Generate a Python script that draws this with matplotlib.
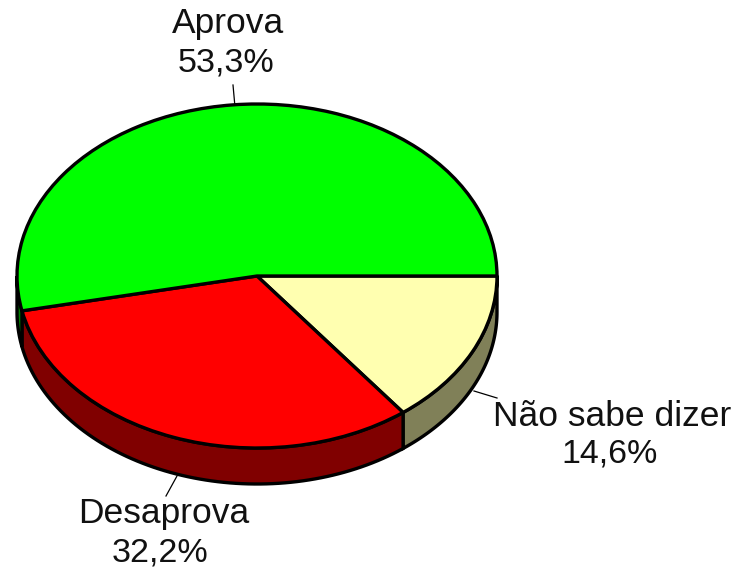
import numpy as np
import matplotlib
matplotlib.use('Agg')
import matplotlib.pyplot as plt

labels = ['Não sabe dizer', 'Desaprova', 'Aprova']
values = [14.6, 32.2, 53.3]
pct_labels = ['14,6%', '32,2%', '53,3%']
colors = ['#FFFFB0', '#FF0000', '#00FF00']
side_colors = ['#808058', '#800000', '#008000']

W, H = 736, 569
cx, cy, rx, ry = 257, 276, 240, 172
depth = 36 / ry
lw = 2.4

plt.rcParams['font.family'] = 'Liberation Sans'


def ux(x):
    return (x - cx) / rx


def uy(y):
    return (cy - y) / ry


fig = plt.figure(figsize=(W / 100, H / 100), dpi=100)
ax = fig.add_axes([0, 0, 1, 1])

# top of the pie, clockwise from 3 o'clock
ax.pie(values, colors=colors, startangle=0, counterclock=False, radius=1,
       wedgeprops={'edgecolor': 'black', 'linewidth': lw, 'joinstyle': 'round', 'zorder': 3})

# side wall, only the front half can be seen
ends = np.cumsum(values) / np.sum(values) * 180 * 2
starts = np.concatenate([[0], ends[:-1]])
for a, b, c in zip(starts, ends, side_colors):
    b = min(b, 180)
    t = np.radians(np.linspace(a, b, 80))
    xs = np.cos(t)
    ys = -np.sin(t)
    ax.fill(np.concatenate([xs, xs[::-1]]), np.concatenate([ys, ys[::-1] - depth]),
            facecolor=c, edgecolor='black', linewidth=lw, zorder=2)

ax.set_aspect('auto')
ax.set_xlim(ux(0), ux(W))
ax.set_ylim(uy(H), uy(0))
ax.axis('off')

# leader lines
ax.plot([ux(233), ux(235)], [uy(85), uy(107)], color='black', lw=0.9, zorder=1)
ax.plot([ux(177), ux(166)], [uy(476), uy(496)], color='black', lw=0.9, zorder=1)
ax.plot([ux(474), ux(497)], [uy(391), uy(398)], color='black', lw=0.9, zorder=1)

name_size = 25.5
pct_size = 24.5
ax.text(ux(228), uy(24), labels[2], fontsize=name_size, ha='center', va='center', color='#111111')
ax.text(ux(226), uy(63), pct_labels[2], fontsize=pct_size, ha='center', va='center', color='#111111')
ax.text(ux(164), uy(514), labels[1], fontsize=name_size, ha='center', va='center', color='#111111')
ax.text(ux(160), uy(553), pct_labels[1], fontsize=pct_size, ha='center', va='center', color='#111111')
ax.text(ux(612), uy(416), labels[0], fontsize=name_size, ha='center', va='center', color='#111111')
ax.text(ux(610), uy(454), pct_labels[0], fontsize=pct_size, ha='center', va='center', color='#111111')

fig.savefig('out.png', dpi=100)
